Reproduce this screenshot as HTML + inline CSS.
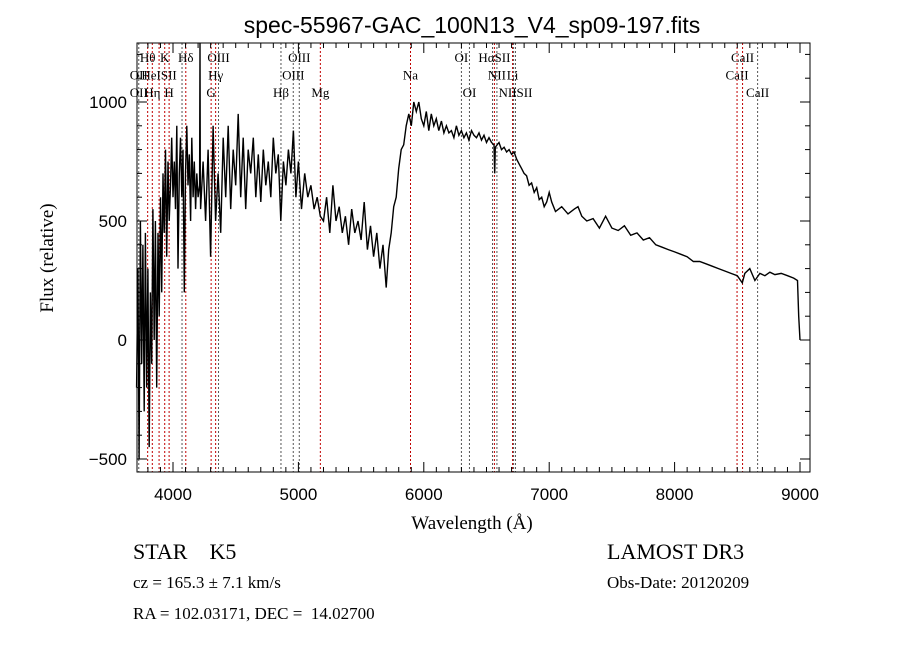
<!DOCTYPE html>
<html><head><meta charset="utf-8"><style>
html,body{margin:0;padding:0;background:#fff;width:900px;height:649px;overflow:hidden}
svg text{font-family:"Liberation Sans",sans-serif;white-space:pre}
.sf{font-family:"Liberation Serif",serif}
</style></head><body>
<svg id="chart" width="900" height="649" viewBox="0 0 900 649" xmlns="http://www.w3.org/2000/svg" xml:space="preserve">
<rect width="900" height="649" fill="#fff"/>
<text x="472" y="33" font-size="23" text-anchor="middle">spec-55967-GAC_100N13_V4_sp09-197.fits</text>
<g id="lines"></g>
<g id="labels"></g>
<g id="spec"></g>
<g id="axes"></g>
<text x="472" y="529" font-size="19" text-anchor="middle" class="sf">Wavelength (Å)</text>
<text x="53" y="258" font-size="19" text-anchor="middle" class="sf" transform="rotate(-90 53 258)">Flux (relative)</text>
<text x="133" y="559" font-size="22" class="sf">STAR    K5</text>
<text x="133" y="588" font-size="17" class="sf">cz = 165.3 ± 7.1 km/s</text>
<text x="133" y="619" font-size="17" class="sf">RA = 102.03171, DEC =  14.02700</text>
<text x="607" y="559" font-size="22" class="sf">LAMOST DR3</text>
<text x="607" y="588" font-size="17" class="sf">Obs-Date: 20120209</text>
</svg>
<script>
const wave=[3710,3720,3730,3740,3750,3760,3770,3780,3790,3800,3810,3820,3830,3840,3850,3860,3870,3880,3890,3900,3910,3920,3930,3940,3950,3960,3970,3980,3990,4000,4010,4020,4030,4040,4050,4060,4070,4080,4090,4100,4110,4120,4130,4140,4150,4160,4170,4180,4190,4200,4212,4215,4218,4220,4240,4260,4280,4300,4320,4340,4360,4380,4400,4420,4440,4460,4480,4500,4520,4540,4560,4580,4600,4620,4640,4660,4680,4700,4720,4740,4760,4780,4800,4820,4840,4860,4880,4900,4920,4940,4960,4980,5000,5025,5050,5075,5100,5125,5150,5175,5200,5225,5250,5275,5300,5325,5350,5375,5400,5425,5450,5475,5500,5525,5550,5575,5600,5625,5650,5675,5700,5720,5740,5760,5780,5800,5820,5840,5860,5880,5900,5920,5940,5960,5980,6000,6020,6040,6060,6080,6100,6120,6140,6160,6180,6200,6220,6240,6260,6280,6300,6320,6340,6360,6380,6400,6420,6440,6460,6480,6500,6520,6540,6560,6565,6570,6600,6620,6640,6660,6680,6700,6720,6740,6760,6780,6800,6820,6840,6860,6880,6900,6920,6940,6960,6980,7000,7020,7050,7100,7150,7200,7230,7260,7300,7350,7400,7450,7500,7550,7600,7650,7700,7750,7800,7850,7900,7950,8000,8050,8100,8150,8200,8250,8300,8350,8400,8450,8500,8540,8560,8600,8640,8680,8720,8760,8800,8850,8900,8950,8980,8990,9000];
const flux=[-200,300,-500,500,-100,400,-300,450,-200,300,-450,200,-100,550,0,500,-200,450,100,600,200,700,450,800,350,750,500,650,850,600,750,550,900,300,700,850,600,800,200,700,900,650,780,500,850,600,750,550,700,600,650,1250,650,550,750,500,800,350,900,500,700,450,850,600,900,550,800,650,950,600,850,550,800,700,850,600,780,580,800,650,750,600,850,700,780,500,750,650,800,700,880,600,750,550,700,600,650,550,600,520,500,600,450,650,500,560,450,520,400,550,450,500,420,580,380,480,350,450,300,400,220,380,450,560,600,720,800,820,900,950,900,1000,960,1000,930,900,960,880,950,900,930,880,920,870,900,870,880,850,900,860,880,850,870,840,880,860,850,870,840,860,830,850,830,820,700,810,830,800,810,790,800,780,790,760,740,720,700,690,650,660,620,640,590,600,560,580,620,580,540,560,530,550,560,520,500,510,470,520,470,460,480,440,450,420,430,400,390,380,370,360,350,330,330,320,310,300,290,280,270,240,280,300,250,280,270,285,275,280,270,260,250,100,0];
const lineWave=[3727,3798,3835,3889,3934,3969,4072,4102,4304,4340,4363,4861,4959,5007,5175,5894,6300,6364,6548,6563,6583,6708,6716,6731,8498,8542,8662];
const lineKind=[0,1,1,1,1,1,0,1,1,1,0,0,0,0,1,1,0,0,0,1,0,1,0,0,1,1,0];
const labelText=["Hθ","K","Hδ","OIII","OIII","OI","HαSII","CaII","OII","HeISII","Hγ","OIII","Na","NII","Li","CaII","OII","Hη","H","G","Hβ","Mg","OI","NIISII","CaII"];
const labelWave=[3798,3934,4102,4363,5007,6300,6563,8542,3727,3889,4340,4959,5894,6583,6708,8498,3727,3835,3969,4304,4861,5175,6364,6731,8662];
const labelRow=[0,0,0,0,0,0,0,0,1,1,1,1,1,1,1,1,2,2,2,2,2,2,2,2,2];
const xTicks=[4000,5000,6000,7000,8000,9000];
const yTicks=[-500,0,500,1000];
const X0=137,X1=810,Y0=43,Y1=472;
const xs=l=>173+(l-4000)*0.1254;
const ys=f=>340-f*0.238;
const NS="http://www.w3.org/2000/svg";
function mk(t,a,p){const e=document.createElementNS(NS,t);for(const k in a)e.setAttribute(k,a[k]);p.appendChild(e);return e;}
const gl=document.getElementById('lines'),glab=document.getElementById('labels'),gs=document.getElementById('spec'),ga=document.getElementById('axes');
lineWave.forEach((l,i)=>{const e=mk('line',{x1:xs(l),x2:xs(l),y1:Y0,y2:Y1,stroke:lineKind[i]?'#c00000':'#555','stroke-width':1,'stroke-dasharray':'2,2'},gl);

});
labelText.forEach((t,i)=>{const e=mk('text',{x:xs(labelWave[i]),y:62+labelRow[i]*17.5,'font-size':13,'text-anchor':'middle',class:'sf'},glab);e.textContent=t;

});
let d='';wave.forEach((l,i)=>{d+=(i?'L':'M')+xs(l).toFixed(1)+','+ys(flux[i]).toFixed(1);});
const p=mk('path',{d:d,fill:'none',stroke:'#000','stroke-width':1.4},gs);


const fr=mk('rect',{x:X0,y:Y0,width:X1-X0,height:Y1-Y0,fill:'none',stroke:'#000','stroke-width':1},ga);


for(let l=3800;l<=9000;l+=100){const x=xs(l),len=(l%1000===0)?10:5;
mk('line',{x1:x,x2:x,y1:Y1,y2:Y1-len,stroke:'#000'},ga);mk('line',{x1:x,x2:x,y1:Y0,y2:Y0+len,stroke:'#000'},ga);}
for(let f=-500;f<=1200;f+=100){const y=ys(f),len=(f%500===0)?10:5;
mk('line',{x1:X0,x2:X0+len,y1:y,y2:y,stroke:'#000'},ga);mk('line',{x1:X1,x2:X1-len,y1:y,y2:y,stroke:'#000'},ga);}
xTicks.forEach(v=>{const t=mk('text',{x:xs(v),y:500,'font-size':17,'text-anchor':'middle'},ga);t.textContent=v;

});
yTicks.forEach(v=>{const t=mk('text',{x:127,y:ys(v)+6,'font-size':17,'text-anchor':'end'},ga);t.textContent=v===-500?'−500':v;

});
</script>
</body></html>
